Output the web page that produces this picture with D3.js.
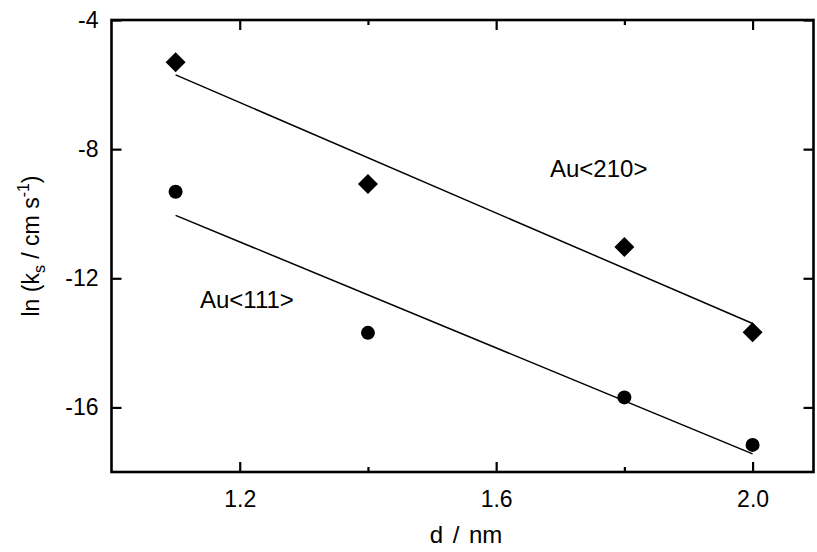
<!DOCTYPE html>
<html lang="en">
<head>
	<meta charset="utf-8">
	<title>ln ks vs d</title>
	<script src="https://d3js.org/d3.v7.min.js" charset="utf-8"></script>
	<style>
		body { margin: 0; background: #fff; }
		text { font-family: "Liberation Sans", Arial, sans-serif; fill: #000; }
	</style>
</head>
<body>
	<script>
  // data
  var dValues = [1.1, 1.4, 1.8, 2.0];
  var au210 = [-5.31, -9.08, -11.03, -13.67];
  var au111 = [-9.32, -13.69, -15.69, -17.16];

  // fitted straight lines (end points)
  var fitD = [1.1, 2.0];
  var fit210 = [-5.70, -13.40];
  var fit111 = [-10.05, -17.44];

  var xMajor = [1.2, 1.6, 2.0];
  var xMinor = [1.4, 1.8];
  var yMajor = [-4, -8, -12, -16];

  var width = 817;
  var height = 552;

  var svg = d3.select( "body" )
      .append( "svg" )
      .attr( "width", width )
      .attr( "height", height );

  var x = d3.scaleLinear()
    .domain( [1.0, 2.095] )
    .range( [111.5, 813.5] );
  var y = d3.scaleLinear()
    .domain( [-18, -4] )
    .range( [472, 20] );

  var fmtX = d3.format( ".1f" );
  // plain hyphen like the original figure
  var fmtY = function( d ) { return String( d ); };

  // ticks, all pointing inward
  svg.append( "g" )
    .attr( "transform", "translate(0," + y(-18) + ")" )
    .call( d3.axisBottom( x ).tickValues( xMajor ).tickSize( -10 ).tickPadding( 19 ).tickFormat( fmtX ) );
  svg.append( "g" )
    .attr( "transform", "translate(0," + y(-18) + ")" )
    .call( d3.axisBottom( x ).tickValues( xMinor ).tickSize( -5 ).tickFormat( "" ) );
  svg.append( "g" )
    .attr( "transform", "translate(0," + y(-4) + ")" )
    .call( d3.axisTop( x ).tickValues( xMajor ).tickSize( -10 ).tickFormat( "" ) );
  svg.append( "g" )
    .attr( "transform", "translate(0," + y(-4) + ")" )
    .call( d3.axisTop( x ).tickValues( xMinor ).tickSize( -5 ).tickFormat( "" ) );
  svg.append( "g" )
    .attr( "transform", "translate(" + x(1.0) + ",0)" )
    .call( d3.axisLeft( y ).tickValues( yMajor ).tickSize( -10 ).tickPadding( 13 ).tickFormat( fmtY ) );
  svg.append( "g" )
    .attr( "transform", "translate(" + x(2.095) + ",0)" )
    .call( d3.axisRight( y ).tickValues( yMajor ).tickSize( -10 ).tickFormat( "" ) );

  svg.selectAll( ".domain" ).remove();
  svg.selectAll( ".tick line" )
    .attr( "stroke", "#000" )
    .attr( "stroke-width", 2.2 );
  svg.selectAll( ".tick text" )
    .attr( "font-size", 23 )
    .attr( "font-family", "Liberation Sans, Arial, sans-serif" );

  // frame
  svg.append( "rect" )
    .attr( "x", x(1.0) )
    .attr( "y", y(-4) )
    .attr( "width", x(2.095) - x(1.0) )
    .attr( "height", y(-18) - y(-4) )
    .attr( "fill", "none" )
    .attr( "stroke", "#000" )
    .attr( "stroke-width", 2.6 );

  // fit lines
  var line = d3.line()
    .x( function( d ) { return x( d[0] ); } )
    .y( function( d ) { return y( d[1] ); } );
  [fit210, fit111].forEach( function( f ) {
    svg.append( "path" )
      .attr( "d", line( d3.zip( fitD, f ) ) )
      .attr( "fill", "none" )
      .attr( "stroke", "#000" )
      .attr( "stroke-width", 1.5 );
  } );

  // Au<210> diamonds
  svg.selectAll( ".dia" )
    .data( d3.zip( dValues, au210 ) )
    .enter()
    .append( "path" )
    .attr( "class", "dia" )
    .attr( "d", d3.symbol( d3.symbolSquare, 200 ) )
    .attr( "transform", function( d ) { return "translate(" + x( d[0] ) + "," + y( d[1] ) + ") rotate(45)"; } )
    .attr( "fill", "#000" );

  // Au<111> circles
  svg.selectAll( ".dot" )
    .data( d3.zip( dValues, au111 ) )
    .enter()
    .append( "circle" )
    .attr( "class", "dot" )
    .attr( "cx", function( d ) { return x( d[0] ); } )
    .attr( "cy", function( d ) { return y( d[1] ); } )
    .attr( "r", 7 )
    .attr( "fill", "#000" );

  // series labels
  svg.append( "text" )
    .attr( "x", 550 )
    .attr( "y", 177 )
    .attr( "font-size", 24 )
    .text( "Au<210>" );
  svg.append( "text" )
    .attr( "x", 200 )
    .attr( "y", 308 )
    .attr( "font-size", 24 )
    .text( "Au<111>" );

  // axis titles
  svg.append( "text" )
    .attr( "x", 466 )
    .attr( "y", 543 )
    .attr( "text-anchor", "middle" )
    .attr( "font-size", 24 )
    .attr( "word-spacing", 3 )
    .text( "d / nm" );

  var yt = svg.append( "text" )
    .attr( "transform", "translate(39," + ((y(-4) + y(-18)) / 2) + ") rotate(-90)" )
    .attr( "text-anchor", "middle" )
    .attr( "font-size", 23 );
  yt.append( "tspan" ).text( "ln (k" );
  yt.append( "tspan" ).attr( "dy", 6 ).attr( "font-size", 16 ).text( "s" );
  yt.append( "tspan" ).attr( "dy", -6 ).text( " / cm s" );
  yt.append( "tspan" ).attr( "dy", -10 ).attr( "font-size", 16 ).text( "-1" );
  yt.append( "tspan" ).attr( "dy", 10 ).text( ")" );
  </script>
</body>
</html>
